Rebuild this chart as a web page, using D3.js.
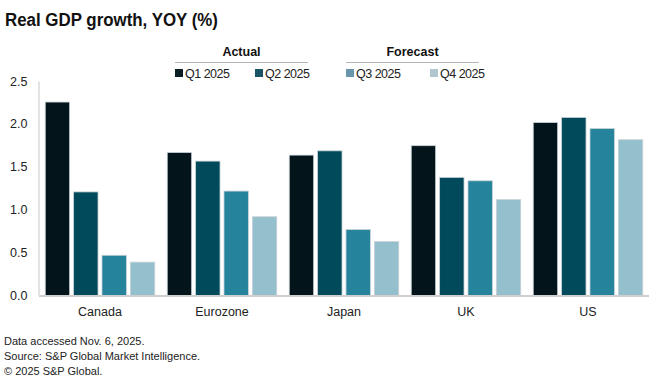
<!DOCTYPE html>
<html><head><meta charset="utf-8">
<script src="https://cdn.jsdelivr.net/npm/d3@7"></script>
<style>
body{margin:0;background:#fff;}
text{font-family:"Liberation Sans","Noto Sans",Arial,sans-serif;}
</style></head>
<body><svg id="c" width="660" height="388"></svg>
<script>
const countries = ["Canada","Eurozone","Japan","UK","US"];
const quarters = ["Q1 2025","Q2 2025","Q3 2025","Q4 2025"];
const q1 = [2.26, 1.67, 1.64, 1.75, 2.02];
const q2 = [1.21, 1.57, 1.69, 1.38, 2.08];
const q3 = [0.47, 1.22, 0.77, 1.34, 1.95];
const q4 = [0.39, 0.92, 0.63, 1.12, 1.82];
const yTicks = [0, 0.5, 1.0, 1.5, 2.0, 2.5];
const groups = [{name:"Actual", items:[0,1]},{name:"Forecast", items:[2,3]}];
const series = [q1,q2,q3,q4];
const colors = ["#03141a","#004a5b","#25849c","#94c0cd"];
const legendColors = ["#0b1d24","#1a5566","#6996aa","#b2c6cf"];

const svg = d3.select("#c");
const mLeft = 39, mRight = 649, mTop = 81.5, mBottom = 295.5;

svg.append("text").attr("x",5).attr("y",26).attr("font-size",18).attr("font-weight",600)
  .attr("fill","#111").attr("textLength",213).attr("lengthAdjust","spacingAndGlyphs")
  .text("Real GDP growth, YOY (%)");

const y = d3.scaleLinear().domain([0,2.5]).range([mBottom,mTop]);
const x0 = d3.scaleBand().domain(countries).range([mLeft,mRight]).padding(0);
const x1 = d3.scaleBand().domain(d3.range(4)).range([0,x0.bandwidth()]).paddingInner(0.14).paddingOuter(0.22);

// y axis labels
svg.append("g").selectAll("text").data(yTicks).join("text")
  .attr("x",10).attr("y",d=>y(d)+4).attr("font-size",12.5).attr("fill","#222")
  .text(d=>d3.format(".1f")(d));
svg.append("line").attr("x1",mLeft).attr("x2",mLeft).attr("y1",mTop).attr("y2",mBottom)
  .attr("stroke","#c8c8c8").attr("stroke-width",1);

// bars
const g = svg.append("g");
countries.forEach((c,i)=>{
  series.forEach((s,j)=>{
    g.append("rect").attr("x",x0(c)+x1(j)).attr("width",x1.bandwidth())
      .attr("y",y(s[i])).attr("height",y(0)-y(s[i]))
      .attr("fill",colors[j]).attr("stroke","#c9d2d6").attr("stroke-width",0.8);
  });
});
svg.append("line").attr("x1",mLeft).attr("x2",mRight).attr("y1",mBottom+0.5).attr("y2",mBottom+0.5)
  .attr("stroke","#cfcfcf").attr("stroke-width",2);

// category labels
svg.append("g").selectAll("text").data(countries).join("text")
  .attr("x",d=>x0(d)+x0.bandwidth()/2).attr("y",316).attr("text-anchor","middle")
  .attr("font-size",12.5).attr("fill","#222").text(d=>d);

// legend
const legItemX = [175, 255, 346, 430];
const legG = svg.append("g");
groups.forEach(gr=>{
  const xa = legItemX[gr.items[0]], xb = gr.items[1]===1 ? 308 : 479;
  legG.append("text").attr("x",(xa+xb)/2).attr("y",56).attr("text-anchor","middle")
    .attr("font-size",12.5).attr("font-weight",700).attr("fill","#111").text(gr.name);
  legG.append("line").attr("x1",xa).attr("x2",xb).attr("y1",62.5).attr("y2",62.5)
    .attr("stroke","#b5b5b5").attr("stroke-width",1);
});
quarters.forEach((q,j)=>{
  legG.append("rect").attr("x",legItemX[j]).attr("y",69).attr("width",8).attr("height",8)
    .attr("fill",legendColors[j]);
  legG.append("text").attr("x",legItemX[j]+10).attr("y",77.5).attr("font-size",12.5)
    .attr("letter-spacing",-0.5).attr("fill","#222").text(q);
});

// footnotes
const notes = ["Data accessed Nov. 6, 2025.","Source: S&P Global Market Intelligence.","\u00a9 2025 S&P Global."];
svg.append("g").selectAll("text").data(notes).join("text")
  .attr("x",4).attr("y",(d,i)=>345+i*15).attr("font-size",11).attr("fill","#222").text(d=>d);
</script></body></html>
